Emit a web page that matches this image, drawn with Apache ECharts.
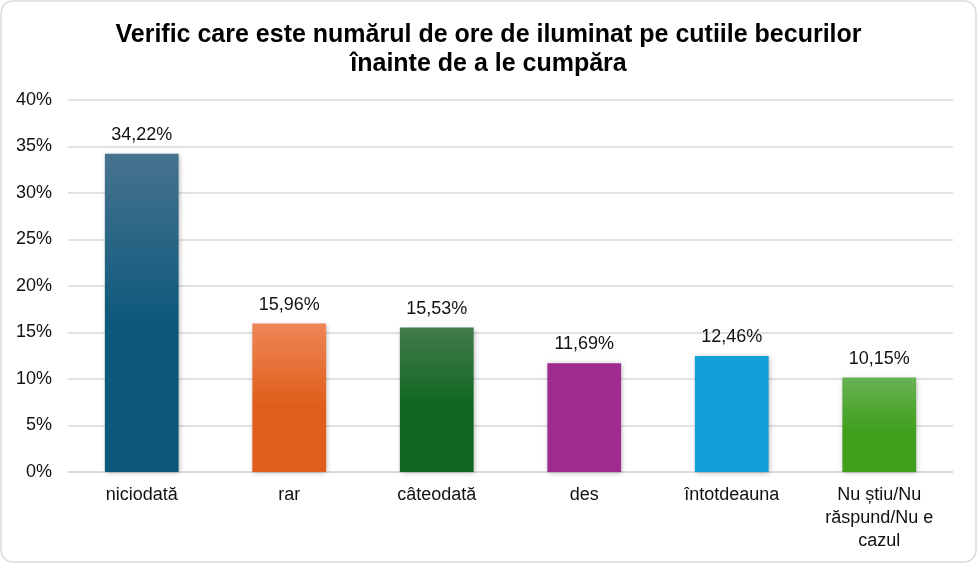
<!DOCTYPE html>
<html>
<head>
<meta charset="utf-8">
<script src="https://cdn.jsdelivr.net/npm/echarts@6/dist/echarts.min.js"></script>
<style>
html,body{margin:0;padding:0;background:#fff;}
#chart{width:977px;height:563px;}
</style>
</head>
<body>
<div id="chart"></div>
<script>
const titleText = 'Verific care este numărul de ore de iluminat pe cutiile becurilor\nînainte de a le cumpăra';
const categories = ['niciodată', 'rar', 'câteodată', 'des', 'întotdeauna', 'Nu știu/Nu\nrăspund/Nu e\ncazul'];
const values = [34.22, 15.96, 15.53, 11.69, 12.46, 10.15];
const yTicks = [0, 5, 10, 15, 20, 25, 30, 35, 40];
const barColors = [
  ['#47738f', '#0b587b'],
  ['#ee8656', '#e05e1a'],
  ['#427c4c', '#0e6620'],
  ['#9e2b8f', '#9e2b8f'],
  ['#139fd7', '#139fd7'],
  ['#68b254', '#40a01e']
];

const chart = echarts.init(document.getElementById('chart'), null, {renderer: 'canvas'});
const font = 'Arial, "Liberation Sans", sans-serif';
chart.setOption({
  backgroundColor: '#fff',
  animation: false,
  graphic: [{
    type: 'rect',
    shape: {x: 1, y: 1, width: 975, height: 561, r: 12},
    style: {fill: 'none', stroke: '#d9d9d9', lineWidth: 1.5},
    silent: true
  }],
  title: {
    text: titleText,
    left: 'center',
    top: 16,
    textStyle: {fontFamily: font, fontWeight: 'bold', fontSize: 25, lineHeight: 29, color: '#000'}
  },
  grid: {left: 68, right: 24, top: 100, bottom: 91, containLabel: false},
  xAxis: {
    type: 'category',
    data: categories,
    axisTick: {show: false},
    axisLine: {lineStyle: {color: '#d9d9d9', width: 1.5}},
    axisLabel: {fontFamily: font, fontSize: 18, color: '#111', margin: 12, lineHeight: 23, interval: 0}
  },
  yAxis: {
    type: 'value',
    min: yTicks[0],
    max: yTicks[yTicks.length - 1],
    interval: 5,
    axisLine: {show: false},
    axisTick: {show: false},
    splitLine: {lineStyle: {color: '#d9d9d9', width: 1.5}},
    axisLabel: {fontFamily: font, fontSize: 18, color: '#111', margin: 16, formatter: v => v + '%'}
  },
  series: [{
    type: 'bar',
    barWidth: '50%',
    data: values.map((v, i) => ({
      value: v,
      itemStyle: {
        color: new echarts.graphic.LinearGradient(0, 0, 0, 1, [
          {offset: 0, color: barColors[i][0]},
          {offset: 0.55, color: barColors[i][1]},
          {offset: 1, color: barColors[i][1]}
        ]),
        shadowColor: 'rgba(0,0,0,0.3)',
        shadowBlur: 5,
        shadowOffsetX: 1,
        shadowOffsetY: 1
      }
    })),
    label: {
      show: true,
      position: 'top',
      distance: 10,
      fontFamily: font,
      fontSize: 18,
      color: '#111',
      formatter: p => p.value.toFixed(2).replace('.', ',') + '%'
    }
  }]
});
</script>
</body>
</html>
